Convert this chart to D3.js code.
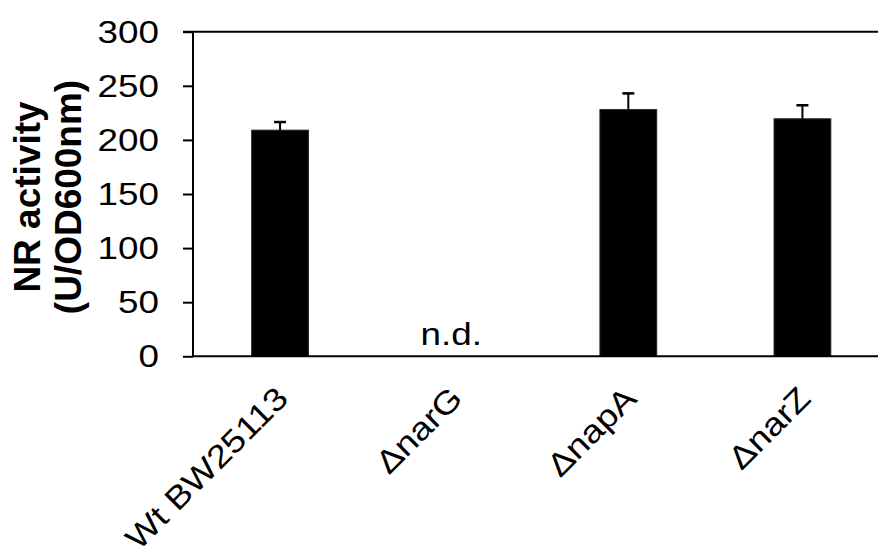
<!DOCTYPE html>
<html>
<head>
<meta charset="utf-8">
<script src="https://cdn.jsdelivr.net/npm/d3@7"></script>
<style>
  html, body { margin: 0; padding: 0; background: #fff; }
  svg { display: block; }
  text { font-family: "Liberation Sans", Arial, sans-serif; fill: #000; }
</style>
</head>
<body>
<svg id="chart" width="878" height="551"></svg>
<script>
// ---- data ----
const categories = ["Wt BW25113", "ΔnarG", "ΔnapA", "ΔnarZ"];
const values = [209, 0, 228, 219.5];
const errors = [7.5, 0, 15, 12.5];
const notes = ["", "n.d.", "", ""];
const yTicks = [0, 50, 100, 150, 200, 250, 300];
const yTitle = ["NR activity", "(U/OD600nm)"];

const W = 878, H = 551;
const svg = d3.select("#chart");

const x = d3.scaleBand()
  .domain(categories)
  .range([193, 889.5])
  .paddingInner(0.674)
  .paddingOuter(0.337);

const y = d3.scaleLinear().domain([0, 300]).range([356.3, 31.7]);

const fs = 32;    // regular text size
const sx = 1.15;  // horizontal stretch of regular text

// top line at max
svg.append("line")
  .attr("x1", 183).attr("x2", W)
  .attr("y1", y(300)).attr("y2", y(300))
  .attr("stroke", "#000").attr("stroke-width", 2);

// bars
svg.selectAll("rect.bar")
  .data(categories.map((c, i) => ({ c, v: values[i], e: errors[i] })))
  .join("rect")
  .attr("class", "bar")
  .attr("x", d => x(d.c))
  .attr("width", x.bandwidth())
  .attr("y", d => y(d.v))
  .attr("height", d => y(0) - y(d.v))
  .attr("fill", "#000")
  .attr("stroke", "#222")
  .attr("stroke-width", 1);

// error bars (upper only)
const eb = svg.selectAll("g.err")
  .data(categories.map((c, i) => ({ c, v: values[i], e: errors[i] })).filter(d => d.e > 0))
  .join("g").attr("class", "err");
eb.append("line")
  .attr("x1", d => x(d.c) + x.bandwidth() / 2)
  .attr("x2", d => x(d.c) + x.bandwidth() / 2)
  .attr("y1", d => y(d.v))
  .attr("y2", d => y(d.v + d.e))
  .attr("stroke", "#000").attr("stroke-width", 2);
eb.append("line")
  .attr("x1", d => x(d.c) + x.bandwidth() / 2 - 6)
  .attr("x2", d => x(d.c) + x.bandwidth() / 2 + 6)
  .attr("y1", d => y(d.v + d.e))
  .attr("y2", d => y(d.v + d.e))
  .attr("stroke", "#000").attr("stroke-width", 2.5);

// notes (n.d.)
svg.selectAll("text.note")
  .data(categories.map((c, i) => ({ c, n: notes[i] })).filter(d => d.n))
  .join("text")
  .attr("class", "note")
  .attr("text-anchor", "middle")
  .attr("font-size", fs)
  .attr("transform", d => `translate(${x(d.c) + x.bandwidth() / 2 - 3},${y(0) - 11}) scale(${sx},1)`)
  .text(d => d.n);

// y axis
const yAxis = svg.append("g")
  .attr("transform", `translate(193,0)`)
  .call(d3.axisLeft(y).tickValues(yTicks).tickSize(10).tickFormat(d3.format("d")));
yAxis.select(".domain").attr("stroke", "#000").attr("stroke-width", 2)
  .attr("d", `M0,${y(300)}V${y(0)}`);
yAxis.selectAll(".tick line").attr("stroke", "#000").attr("stroke-width", 2);
yAxis.selectAll(".tick text")
  .attr("x", 0)
  .attr("dy", "0.33em")
  .attr("font-size", fs)
  .attr("font-family", "'Liberation Sans', Arial, sans-serif")
  .attr("transform", `translate(-34,0) scale(${sx},1)`);

// x axis
const xAxis = svg.append("g")
  .attr("transform", `translate(0,${y(0)})`)
  .call(d3.axisBottom(x).tickSize(0).tickFormat(""));
xAxis.select(".domain").attr("stroke", "#000").attr("stroke-width", 2)
  .attr("d", `M193,0H${W}`);

// category labels
svg.selectAll("text.cat")
  .data(categories)
  .join("text")
  .attr("class", "cat")
  .attr("text-anchor", "end")
  .attr("font-size", fs)
  .attr("transform", d => `translate(${x(d) + x.bandwidth() / 2 + 10},${y(0) + 44}) rotate(-45) scale(${sx},1)`)
  .text(d => d);

// y title
const yt = svg.append("text")
  .attr("text-anchor", "middle")
  .attr("font-size", 37)
  .attr("font-weight", "bold")
  .attr("transform", "translate(40,197) rotate(-90)");
yt.selectAll("tspan").data(yTitle).join("tspan")
  .attr("x", 0)
  .attr("dy", (d, i) => i === 0 ? 0 : 40.5)
  .text(d => d);
</script>
</body>
</html>
